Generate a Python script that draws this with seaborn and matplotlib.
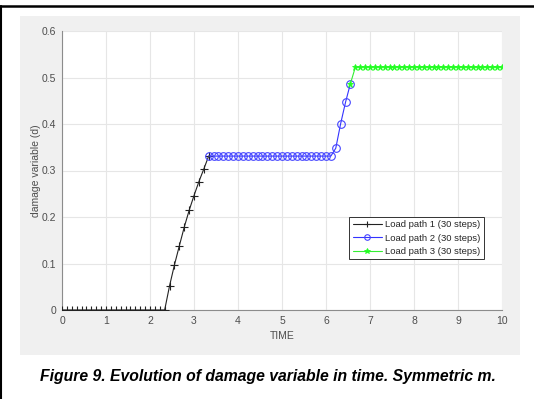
import numpy as np
import pandas as pd
import matplotlib
matplotlib.use("Agg")
import matplotlib.pyplot as plt
import seaborn as sns
from matplotlib.patches import Rectangle
from matplotlib.lines import Line2D

# ---- data ----
dt = 1.0 / 9.0
steps1 = list(range(0, 31))
d1 = [0.0] * 22 + [0.052, 0.097, 0.138, 0.178, 0.214, 0.246, 0.276, 0.303, 0.331]
steps2 = list(range(30, 60))
d2 = [0.331] * 26 + [0.348, 0.401, 0.447, 0.487]
steps3 = list(range(59, 91))
d3 = [0.487] + [0.522] * 31
labels = ["Load path 1 (30 steps)", "Load path 2 (30 steps)", "Load path 3 (30 steps)"]
xticks = list(range(0, 11))
yticks = [0, 0.1, 0.2, 0.3, 0.4, 0.5, 0.6]
ytick_labels = ["0", "0.1", "0.2", "0.3", "0.4", "0.5", "0.6"]

df1 = pd.DataFrame({"t": np.array(steps1) * dt, "d": d1})
df2 = pd.DataFrame({"t": np.array(steps2) * dt, "d": d2})
df3 = pd.DataFrame({"t": np.array(steps3) * dt, "d": d3})

sns.set_style("whitegrid")
plt.rcParams["font.family"] = ["Liberation Sans", "DejaVu Sans"]

W, H = 534, 399
fig = plt.figure(figsize=(W / 100, H / 100), dpi=100)
fig.patch.set_facecolor("white")

# gray panel
fig.patches.append(Rectangle((20 / W, 1 - 355 / H), 500 / W, 339 / H,
                             transform=fig.transFigure, facecolor="#f0f0f0",
                             edgecolor="none", zorder=-10))
# black border lines (top and left)
fig.lines.append(Line2D([0, 1], [1 - 5.5 / H, 1 - 5.5 / H], transform=fig.transFigure,
                        color="black", lw=1.8, zorder=-5))
fig.lines.append(Line2D([0.8 / W, 0.8 / W], [0, 1 - 5.5 / H], transform=fig.transFigure,
                        color="black", lw=1.5, zorder=-5))

ax = fig.add_axes([62 / W, 1 - 310 / H, 440 / W, 279 / H])
ax.set_zorder(1)
ax.set_facecolor("white")

sns.lineplot(data=df1, x="t", y="d", ax=ax, color="#222222", lw=0.8, marker="+",
             markersize=6, markeredgewidth=0.8, markeredgecolor="#222222",
             label=labels[0], zorder=3)
sns.lineplot(data=df2, x="t", y="d", ax=ax, color="#3333ff", lw=0.8, marker="o",
             markersize=5.5, markerfacecolor="none", markeredgewidth=0.8,
             markeredgecolor="#4444ff", label=labels[1], zorder=3)
sns.lineplot(data=df3, x="t", y="d", ax=ax, color="#33ee33", lw=0.8, marker="*",
             markersize=5, markeredgewidth=0.6, markeredgecolor="#22ff22",
             markerfacecolor="#22ff22", label=labels[2], zorder=4)

ax.set_xlim(0, 10)
ax.set_ylim(0, 0.6)
ax.set_xticks(xticks)
ax.set_yticks(yticks)
ax.set_yticklabels(ytick_labels)
ax.grid(True, color="#e6e6e6", lw=0.8)
for s in ["top", "right"]:
    ax.spines[s].set_visible(False)
for s in ["left", "bottom"]:
    ax.spines[s].set_color("#8c8c8c")
    ax.spines[s].set_linewidth(0.8)
ax.tick_params(direction="in", length=3, width=0.7, color="#8c8c8c",
               labelsize=7.5, labelcolor="#4d4d4d", pad=4)
ax.set_xlabel("TIME", fontsize=7.5, color="#4d4d4d", labelpad=4)
ax.set_ylabel("damage variable (d)", fontsize=7.5, color="#4d4d4d", labelpad=1)

leg = ax.legend(loc="upper right", bbox_to_anchor=(484 / W, 1 - 217 / H),
                bbox_transform=fig.transFigure, fontsize=6.8,
                frameon=True, fancybox=False, framealpha=1, edgecolor="#333333",
                borderpad=0.35, labelspacing=0.45, handlelength=3.1, handletextpad=0.35,
                borderaxespad=0)
leg.get_frame().set_linewidth(0.7)
for h in leg.legend_handles:
    h.set_markersize(4)

fig.text(40 / W, 1 - 377 / H, "Figure 9. Evolution of damage variable in time. Symmetric m.",
         fontsize=11.3, fontweight="bold", fontstyle="italic", color="black",
         ha="left", va="center")

fig.savefig("out.png", dpi=100)
